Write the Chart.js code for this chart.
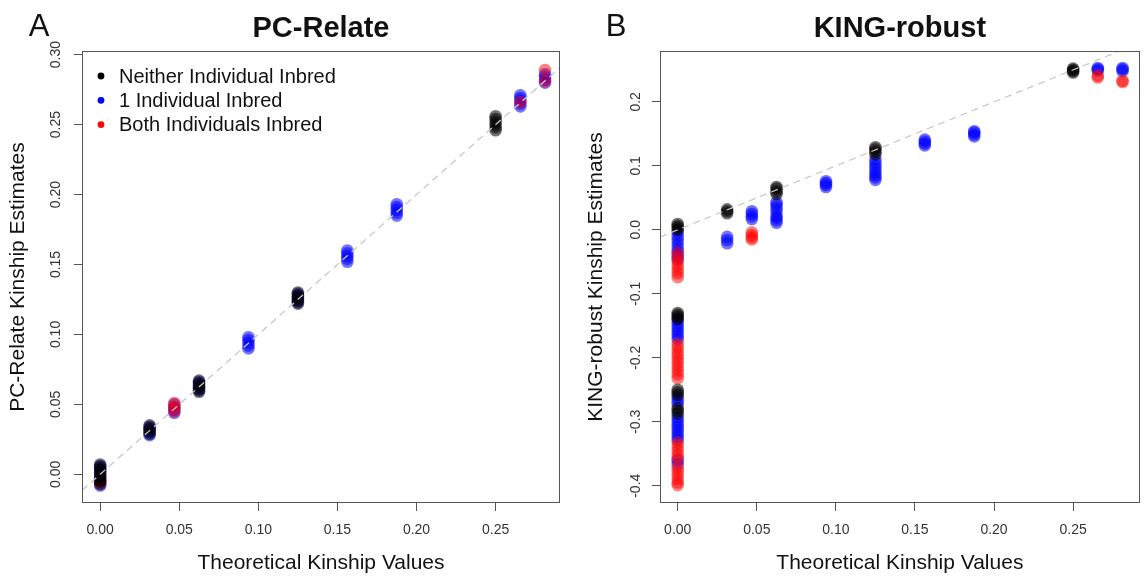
<!DOCTYPE html>
<html>
<head>
<meta charset="utf-8">
<script src="https://cdn.jsdelivr.net/npm/chart.js@4.4.0/dist/chart.umd.min.js"></script>
<style>
  html, body { margin: 0; padding: 0; background: #fff; }
  #wrap { position: relative; width: 1146px; height: 578px; }
  .panel { position: absolute; top: 0; width: 573px; height: 578px; }
</style>
</head>
<body>
<div id="wrap">
  <div class="panel" style="left:0"><canvas id="pcChart" width="573" height="578"></canvas></div>
  <div class="panel" style="left:573px"><canvas id="kingChart" width="573" height="578"></canvas></div>
</div>
<script>
// axis ranges and ticks
const pcXRange = [-0.0115, 0.2907];
const pcYRange = [-0.0205, 0.3026];
const kingXRange = [-0.0112, 0.2921];
const kingYRange = [-0.427, 0.2795];
const xTicks = [0, 0.05, 0.10, 0.15, 0.20, 0.25];
const pcYTicks = [0, 0.05, 0.10, 0.15, 0.20, 0.25, 0.30];
const kingYTicks = [-0.4, -0.3, -0.2, -0.1, 0, 0.1, 0.2];

const legendLabels = ["Neither Individual Inbred", "1 Individual Inbred", "Both Individuals Inbred"];

// [theoretical kinship, estimates]
const pcNeither = [
  [0, [-0.007, -0.005, -0.003, -0.001, 0.001, 0.003, 0.005, 0.007]],
  [0.03125, [0.029, 0.031, 0.033, 0.035]],
  [0.0625, [0.059, 0.061, 0.063, 0.065, 0.067]],
  [0.125, [0.122, 0.124, 0.126, 0.128, 0.130]],
  [0.25, [0.246, 0.248, 0.250, 0.252, 0.254, 0.256]]
];
const pcOne = [
  [0, [-0.008, -0.005, -0.002, 0.001, 0.004, 0.006]],
  [0.03125, [0.028, 0.030, 0.032, 0.034]],
  [0.046875, [0.044, 0.046, 0.048, 0.050]],
  [0.0625, [0.060, 0.062, 0.064, 0.066]],
  [0.09375, [0.090, 0.092, 0.094, 0.096, 0.098]],
  [0.125, [0.123, 0.125, 0.127, 0.129]],
  [0.15625, [0.152, 0.154, 0.156, 0.158, 0.160]],
  [0.1875, [0.185, 0.187, 0.189, 0.191, 0.193]],
  [0.265625, [0.263, 0.265, 0.267, 0.269, 0.271]],
  [0.28125, [0.280, 0.282, 0.284, 0.286]]
];
const pcBoth = [
  [0, [-0.006, -0.004]],
  [0.046875, [0.045, 0.048, 0.051]],
  [0.265625, [0.266]],
  [0.28125, [0.281, 0.289]]
];

const kingNeither = [
  [0, [0.000, 0.003, 0.006, 0.009, -0.130, -0.133, -0.136, -0.139, -0.250, -0.254, -0.258, -0.279, -0.283, -0.287]],
  [0.03125, [0.026, 0.029, 0.032]],
  [0.0625, [0.056, 0.060, 0.064, 0.067]],
  [0.125, [0.118, 0.122, 0.126, 0.129]],
  [0.25, [0.246, 0.248, 0.250, 0.252]]
];
const kingOne = [
  [0, [-0.004, -0.010, -0.016, -0.022, -0.028, -0.034, -0.040, -0.046, -0.141, -0.146, -0.151, -0.156, -0.161, -0.166, -0.171,
       -0.262, -0.267, -0.272, -0.293, -0.298, -0.303, -0.308, -0.313, -0.318, -0.323, -0.328, -0.360, -0.366]],
  [0.03125, [-0.011, -0.016, -0.021]],
  [0.046875, [0.017, 0.021, 0.025, 0.029]],
  [0.0625, [0.029, 0.034, 0.039, 0.043, 0.011, 0.015, 0.019, 0.022]],
  [0.09375, [0.067, 0.070, 0.073, 0.076]],
  [0.125, [0.095, 0.100, 0.105, 0.110, 0.078, 0.082, 0.086, 0.090]],
  [0.15625, [0.132, 0.135, 0.138, 0.141]],
  [0.1875, [0.146, 0.149, 0.152, 0.154]],
  [0.265625, [0.249, 0.251, 0.253]],
  [0.28125, [0.248, 0.251, 0.253]]
];
const kingBoth = [
  [0, [-0.036, -0.044, -0.050, -0.056, -0.062, -0.068, -0.074, -0.178, -0.184, -0.190, -0.196, -0.202, -0.208, -0.214, -0.220,
       -0.226, -0.232, -0.333, -0.339, -0.345, -0.351, -0.357, -0.371, -0.377, -0.383, -0.389, -0.395, -0.399]],
  [0.046875, [-0.004, -0.008, -0.012, -0.015]],
  [0.265625, [0.238, 0.241]],
  [0.28125, [0.231, 0.233]]
];

const solidColors = ["#000000", "#0000ff", "#ff0000"];
const fadedColors = ["rgba(0,0,0,0.55)", "rgba(0,0,255,0.55)", "rgba(255,0,0,0.5)"];
const FONT = "'Liberation Sans', Arial, Helvetica, sans-serif";

Chart.defaults.font.family = FONT;

function toPoints(groups) {
  return groups.flatMap(([x, ys]) => ys.map(y => ({ x, y })));
}

// box, panel letter, title and in-plot legend
const panelDecor = {
  id: "panelDecor",
  afterDraw(chart, args, opts) {
    const { ctx, chartArea: a } = chart;
    ctx.save();
    ctx.strokeStyle = "#555";
    ctx.lineWidth = 1;
    ctx.strokeRect(Math.round(a.left) + 0.5, Math.round(a.top) + 0.5,
      Math.round(a.width) - 1, Math.round(a.height) - 1);

    ctx.fillStyle = "#111";
    ctx.textBaseline = "alphabetic";
    ctx.textAlign = "center";
    ctx.font = "bold 29px " + FONT;
    ctx.fillText(opts.title, (a.left + a.right) / 2, 37);
    ctx.font = "31px " + FONT;
    ctx.fillText(opts.letter, opts.letterX, 36);

    if (opts.legend) {
      ctx.font = "20px " + FONT;
      ctx.textAlign = "left";
      ctx.textBaseline = "middle";
      legendLabels.forEach((label, i) => {
        const y = a.top + 25 + i * 24.3;
        ctx.fillStyle = solidColors[i];
        ctx.beginPath();
        ctx.arc(a.left + 19, y, 3.4, 0, Math.PI * 2);
        ctx.fill();
        ctx.fillStyle = "#111";
        ctx.fillText(label, a.left + 37, y + 1);
      });
    }
    ctx.restore();
  }
};

function makeChart(id, cfg) {
  // first dataset is drawn on top: dashed y = x, then black, red, blue
  const datasets = [
    {
      type: "line",
      data: cfg.xRange.map(v => ({ x: v, y: v })),
      borderColor: "#c8c8c8",
      borderWidth: 1.3,
      borderDash: [7, 5],
      pointRadius: 0,
      fill: false
    }
  ];
  [[cfg.neither, 0], [cfg.both, 2], [cfg.one, 1]].forEach(([groups, i]) => {
    datasets.push({
      label: legendLabels[i],
      data: toPoints(groups),
      backgroundColor: fadedColors[i],
      borderWidth: 0,
      pointRadius: 6.3,
      pointHoverRadius: 6.3
    });
  });

  return new Chart(document.getElementById(id), {
    type: "scatter",
    data: { datasets },
    options: {
      responsive: false,
      animation: false,
      layout: { padding: { left: 0, right: cfg.padRight, top: 51, bottom: 0 } },
      plugins: {
        legend: { display: false },
        tooltip: { enabled: false },
        panelDecor: { title: cfg.title, letter: cfg.letter, letterX: cfg.letterX, legend: cfg.legend }
      },
      scales: {
        x: {
          type: "linear",
          min: cfg.xRange[0],
          max: cfg.xRange[1],
          afterFit: s => { s.height = 75; },
          afterBuildTicks: s => { s.ticks = xTicks.map(v => ({ value: v })); },
          grid: { drawOnChartArea: false, tickLength: 8, tickColor: "#555" },
          border: { display: false },
          ticks: {
            padding: 11, color: "#333", font: { size: 14 },
            callback: v => v.toFixed(2)
          },
          title: {
            display: true, text: "Theoretical Kinship Values", color: "#111",
            font: { size: 21 }, padding: { top: 0, bottom: 2 }
          }
        },
        y: {
          type: "linear",
          min: cfg.yRange[0],
          max: cfg.yRange[1],
          afterFit: s => { s.width = cfg.axisWidth; },
          afterBuildTicks: s => { s.ticks = cfg.yTicks.map(v => ({ value: v })); },
          grid: { drawOnChartArea: false, tickLength: 8, tickColor: "#555" },
          border: { display: false },
          ticks: {
            minRotation: 90, maxRotation: 90, crossAlign: "center",
            padding: 4, color: "#333", font: { size: 14 },
            callback: v => v.toFixed(cfg.yDigits)
          },
          title: {
            display: true, text: cfg.yTitle, color: "#111",
            font: { size: 21 }, padding: { top: cfg.yTitlePad, bottom: 0 }
          }
        }
      }
    },
    plugins: [panelDecor]
  });
}

makeChart("pcChart", {
  title: "PC-Relate", letter: "A", letterX: 39, legend: true,
  yTitle: "PC-Relate Kinship Estimates", yTitlePad: 6,
  xRange: pcXRange, yRange: pcYRange, yTicks: pcYTicks, yDigits: 2,
  axisWidth: 82, padRight: 13,
  neither: pcNeither, one: pcOne, both: pcBoth
});

makeChart("kingChart", {
  title: "KING-robust", letter: "B", letterX: 43, legend: false,
  yTitle: "KING-robust Kinship Estimates", yTitlePad: 11,
  xRange: kingXRange, yRange: kingYRange, yTicks: kingYTicks, yDigits: 1,
  axisWidth: 87, padRight: 6,
  neither: kingNeither, one: kingOne, both: kingBoth
});
</script>
</body>
</html>
